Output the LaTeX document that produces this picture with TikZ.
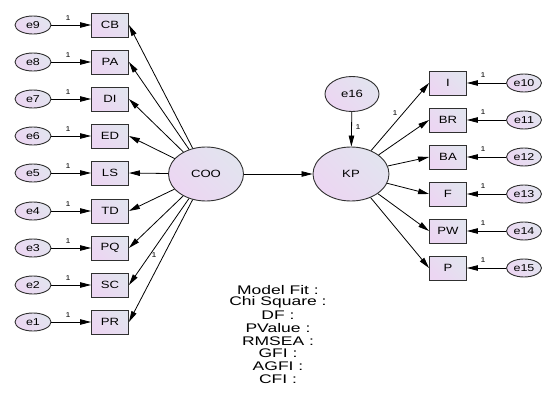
\documentclass[tikz,border=0pt]{standalone}
\usepackage{fontspec}
\setmainfont{Liberation Sans}[FakeStretch=1.25]
\newfontfamily\fitfont{Liberation Sans}[FakeStretch=1.4]
\usetikzlibrary{arrows.meta,shapes.geometric}
\definecolor{fillA}{HTML}{E2E4EF}
\definecolor{fillB}{HTML}{ECD6F2}
\definecolor{edgeC}{HTML}{303030}
\tikzset{
  obsbox/.style={draw=edgeC, line width=0.9pt, rectangle, minimum width=37pt, minimum height=24pt, inner sep=0pt,
    left color=fillA, right color=fillB, shading angle=-45, font=\fontsize{10.5}{11}\selectfont},
  errell/.style={draw=edgeC, line width=0.9pt, ellipse, minimum width=36pt, minimum height=18pt, inner sep=0pt,
    left color=fillA, right color=fillB, shading angle=-45, font=\fontsize{10}{10}\selectfont},
  latent/.style={draw=edgeC, line width=0.9pt, ellipse, inner sep=0pt,
    left color=fillA, right color=fillB, shading angle=-45, font=\fontsize{10.5}{11}\selectfont},
  arr/.style={-{Triangle[length=11pt,width=5.5pt]}, line width=0.8pt, black},
  one/.style={font=\fontsize{7}{7}\selectfont, inner sep=0pt},
  fit/.style={font=\fitfont\fontsize{12.5}{12.5}\selectfont, inner sep=0pt, align=center}
}
\begin{document}
\begin{tikzpicture}[x=1pt,y=-1pt]
\useasboundingbox (0,0) rectangle (542,399);
% latent
\node[latent, minimum width=75pt, minimum height=54pt] (COO) at (206,174) {COO};
\node[latent, minimum width=76pt, minimum height=54pt] (KP) at (351,174) {KP};
\node[latent, minimum width=54pt, minimum height=35pt] (e16) at (352,94) {e16};
% left indicators
\foreach \lab/\e/\y in {CB/e9/25, PA/e8/62, DI/e7/99, ED/e6/136, LS/e5/173, TD/e4/211, PQ/e3/248, SC/e2/285, PR/e1/322}{
  \node[obsbox] (\lab) at (110,\y) {\lab};
  \node[errell] (\e) at (33,\y) {\e};
  \draw[arr] (\e) -- (\lab);
  \node[one] at (68,\y-7) {1};
  \draw[arr] (COO) -- (\lab.east);
}
\node[one] at (154,255) {1};
% right indicators
\foreach \lab/\e/\y in {I/e10/83, BR/e11/120, BA/e12/157, F/e13/194, PW/e14/231, P/e15/268}{
  \node[obsbox] (\lab) at (448,\y) {\lab};
  \node[errell, minimum width=35pt] (\e) at (524,\y) {\e};
  \draw[arr] (\e) -- (\lab);
  \node[one] at (483,\y-8) {1};
  \draw[arr] (KP) -- (\lab.west);
}
\node[one] at (395,113) {1};
\draw[arr] (COO) -- (KP);
\draw[arr] (e16) -- (KP);
\node[one] at (358,127) {1};
% fit block
\node[fit] (mf) at (278,290) {Model Fit :};
\node[fit] (cs) at (278,302.7) {Chi Square :};
\node[fit] (df) at (278,315.4) {DF :};
\node[fit] (pv) at (278,328.1) {PValue :};
\node[fit] (rm) at (278,340.8) {RMSEA :};
\node[fit] (gf) at (278,353.5) {GFI :};
\node[fit] (ag) at (278,366.2) {AGFI :};
\node[fit] (cf) at (278,378.9) {CFI :};
\end{tikzpicture}
\end{document}
